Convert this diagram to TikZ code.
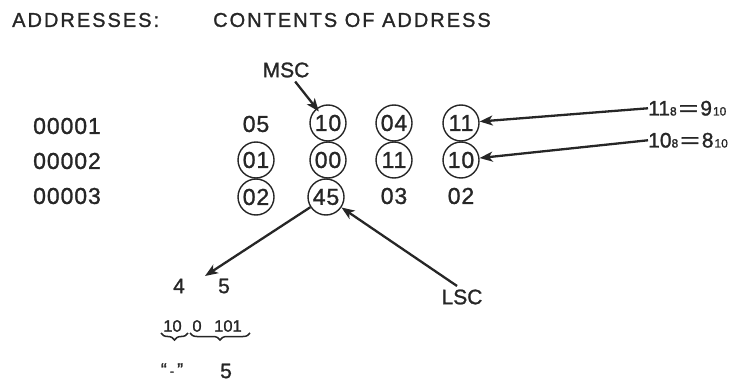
\documentclass[tikz,border=0pt]{standalone}
\usepackage{fontspec}
\usepackage{graphicx}
\setmainfont{Liberation Sans}
\newfontfamily\titlefam{Liberation Sans}[LetterSpace=10, FakeBold=1.2]
\newfontfamily\digfam{Liberation Sans}[LetterSpace=4, FakeBold=1.2]
\newfontfamily\lblfam{Liberation Sans}[FakeBold=1.2]
\usetikzlibrary{arrows.meta,decorations.pathreplacing}
\newcommand\sbs[1]{{\fontsize{12}{12}\selectfont #1}}
\begin{document}
\begin{tikzpicture}[x=1pt,y=-1pt,
  titletxt/.style={font=\titlefam\fontsize{20}{24}\selectfont, anchor=west, inner sep=0pt, text=black!85},
  digtxt/.style={font=\digfam\fontsize{23}{27}\selectfont, inner sep=0pt, text=black!85},
  cellc/.style={digtxt, circle, draw=black!85, line width=1.4pt, minimum size=36pt},
  lbltxt/.style={font=\lblfam\fontsize{21}{25}\selectfont, inner sep=0pt, text=black!85},
  smalltxt/.style={font=\lblfam\fontsize{16.5}{20}\selectfont, inner sep=0pt, text=black!85},
  arrw/.style={draw=black!85, line width=2.3pt, -{Stealth[length=13pt,width=10pt,inset=3.5pt]}},
  bracec/.style={draw=black!85, line width=1.5pt, decorate, decoration={brace, mirror, amplitude=7pt}},
  ]
\useasboundingbox (0,0) rectangle (751,382);
% titles
\node[titletxt] (tAddr) at (12,20) {ADDRESSES:};
\node[titletxt] (tCont) at (213,20) {CONTENTS OF ADDRESS};
% address labels
\node[digtxt] (a1) at (67,126) {00001};
\node[digtxt] (a2) at (67,161) {00002};
\node[digtxt] (a3) at (67,196) {00003};
% row 1
\node[digtxt] (c11) at (256,124) {05};
\node[cellc] (c12) at (328,123) {10};
\node[cellc] (c13) at (394,123) {04};
\node[cellc] (c14) at (461,123) {11};
% row 2
\node[cellc] (c21) at (256,160) {01};
\node[cellc] (c22) at (328,160) {00};
\node[cellc] (c23) at (394,160) {11};
\node[cellc] (c24) at (461,160) {10};
% row 3
\node[cellc] (c31) at (256,197) {02};
\node[cellc] (c32) at (326,197) {45};
\node[digtxt] (c33) at (394,196) {03};
\node[digtxt] (c34) at (461,196) {02};
% MSC
\node[lbltxt] (msc) at (286,70) {MSC};
\draw[arrw, shorten <=5pt, shorten >=-4pt] (msc) -- (c12);
% right labels
\node[lbltxt, anchor=base west] (r1) at (648,115.5) {11\sbs{8}\hspace{2pt}\scalebox{1.6}[1]{=}\hspace{2pt}9\hspace{1pt}\sbs{10}};
\node[lbltxt, anchor=base west] (r2) at (648,147.5) {10\sbs{8}\hspace{2pt}\scalebox{1.6}[1]{=}\hspace{2pt}8\hspace{1pt}\sbs{10}};
\draw[arrw] (r1.west) -- (c14);
\draw[arrw] (r2.west) -- (c24);
% split 45
\node[lbltxt] (n4) at (179,286) {4};
\node[lbltxt] (n5) at (224,286) {5};
\coordinate (tipA) at (205,276);
\draw[arrw] (c32) -- (tipA);
\node[lbltxt] (lsc) at (462,297) {LSC};
\draw[arrw, shorten <=6pt] (lsc.north) -- (c32);
% binary
\node[smalltxt] (b10) at (172.5,326) {10};
\node[smalltxt] (b0) at (197,326) {0};
\node[smalltxt] (b101) at (228,326) {101};
\coordinate (br1a) at (161,333);
\coordinate (br1b) at (188,333);
\coordinate (br2a) at (190,333);
\coordinate (br2b) at (250,333);
\draw[bracec] (br1a) -- (br1b);
\draw[bracec] (br2a) -- (br2b);
% result
\node[font=\lblfam\fontsize{18}{22}\selectfont, inner sep=0pt, text=black!85] (q) at (172,369.5) {“\hspace{3pt}{\fontsize{13}{13}\selectfont -}\hspace{3pt}”};
\node[lbltxt] (r5) at (226,371) {5};
\end{tikzpicture}
\end{document}
